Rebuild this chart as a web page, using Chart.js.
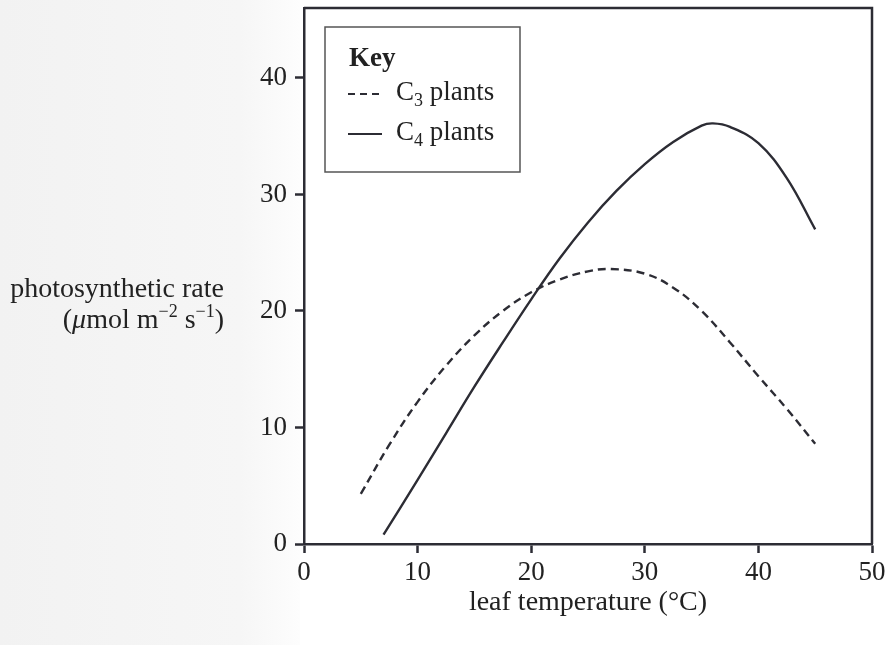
<!DOCTYPE html>
<html>
<head>
<meta charset="utf-8">
<script src="https://cdn.jsdelivr.net/npm/chart.js@4"></script>
<style>
  body { margin: 0; background: #fff; }
  #wrap { width: 889px; height: 645px; }
</style>
</head>
<body>
<div id="wrap"><canvas id="chart1" width="889" height="645"></canvas></div>
<script>
"use strict"

// values
const c3Temp = [5, 7.5, 10, 12.5, 15, 17.5, 20, 22.5, 25, 27, 30, 32.5, 35, 37.5, 40, 42.5, 45]
const c3Rate = [4.3, 8.5, 12.2, 15.3, 17.9, 20.0, 21.6, 22.7, 23.4, 23.6, 23.2, 22.0, 20.0, 17.3, 14.4, 11.6, 8.6]
const c4Temp = [7, 10, 12.5, 15, 17.5, 20, 22.5, 25, 27.5, 30, 32.5, 35, 36, 37.5, 40, 42.5, 45]
const c4Rate = [0.8, 5.5, 9.5, 13.5, 17.3, 21.0, 24.5, 27.6, 30.3, 32.6, 34.5, 35.9, 36.1, 35.8, 34.4, 31.4, 27.0]
const xTicks = [0, 10, 20, 30, 40, 50]
const yTicks = [0, 10, 20, 30, 40]

const ink = '#2c2c34'
const serif = '"Liberation Serif", "Times New Roman", serif'

function toPoints(xs, ys){
    let pts = []
    for (let i = 0; i < xs.length; i++) pts.push({x: xs[i], y: ys[i]})
    return pts
}

// draws background, frame, key and the axis titles
const decor = {
    id: 'decor',
    beforeDraw(chart){
        const c = chart.ctx
        c.save()
        let g = c.createLinearGradient(0, 0, 300, 0)
        g.addColorStop(0, '#f2f2f2')
        g.addColorStop(0.8, '#f6f6f6')
        g.addColorStop(1, '#fdfdfd')
        c.fillStyle = g
        c.fillRect(0, 0, 300, 645)
        c.restore()
    },
    afterDraw(chart){
        const c = chart.ctx
        const a = chart.chartArea
        c.save()
        // top and right edge of the frame
        c.strokeStyle = ink
        c.lineWidth = 2.5
        c.beginPath()
        c.moveTo(a.left, a.top)
        c.lineTo(a.right, a.top)
        c.lineTo(a.right, a.bottom)
        c.stroke()

        // key box
        c.lineWidth = 1.5
        c.strokeStyle = '#555'
        c.strokeRect(325, 27, 195, 145)
        c.fillStyle = '#222'
        c.textBaseline = 'middle'
        c.textAlign = 'left'
        c.font = 'bold 27px ' + serif
        c.fillText('Key', 349, 59)
        c.font = '27px ' + serif
        c.strokeStyle = ink
        c.lineWidth = 2
        c.setLineDash([7, 5])
        c.beginPath(); c.moveTo(348, 94); c.lineTo(381, 94); c.stroke()
        c.setLineDash([])
        c.beginPath(); c.moveTo(348, 134); c.lineTo(382, 134); c.stroke()
        const keyLines = [['3', 93], ['4', 133]]
        for (const [sub, y] of keyLines) {
            c.font = '27px ' + serif
            c.fillText('C', 396, y)
            let w = c.measureText('C').width
            c.font = '18px ' + serif
            c.fillText(sub, 396 + w, y + 8)
            let w2 = c.measureText(sub).width
            c.font = '27px ' + serif
            c.fillText(' plants', 396 + w + w2, y)
        }

        // y axis title, two lines right aligned
        c.font = '28px ' + serif
        c.textAlign = 'right'
        c.fillText('photosynthetic rate', 224, 290)
        c.textAlign = 'left'
        const parts = [
            ['(', '28px ' + serif, 0],
            ['\u03bc', 'italic 28px ' + serif, 0],
            ['mol m', '28px ' + serif, 0],
            ['\u22122', '18px ' + serif, -9],
            [' s', '28px ' + serif, 0],
            ['\u22121', '18px ' + serif, -9],
            [')', '28px ' + serif, 0]
        ]
        let total = 0
        for (const p of parts) { c.font = p[1]; total += c.measureText(p[0]).width }
        let x = 224 - total
        for (const p of parts) {
            c.font = p[1]
            c.fillText(p[0], x, 321 + p[2])
            x += c.measureText(p[0]).width
        }

        // x axis title
        c.textAlign = 'center'
        c.font = '28px ' + serif
        c.fillText('leaf temperature (\u00b0C)', (a.left + a.right) / 2, 603)
        c.restore()
    }
}

const ctx = document.getElementById('chart1')
let myChart = new Chart(ctx, {
    type: 'scatter',
    data: {
        datasets: [{
            label: 'C3 plants',
            data: toPoints(c3Temp, c3Rate),
            showLine: true,
            borderColor: ink,
            borderWidth: 2.4,
            borderDash: [8, 5],
            pointRadius: 0,
            tension: 0.4
        }, {
            label: 'C4 plants',
            data: toPoints(c4Temp, c4Rate),
            showLine: true,
            borderColor: ink,
            borderWidth: 2.4,
            pointRadius: 0,
            tension: 0.4
        }]
    },
    options: {
        responsive: false,
        devicePixelRatio: 1,
        animation: false,
        layout: { padding: { top: 8, right: 17, bottom: 0, left: 0 } },
        plugins: {
            legend: { display: false },
            tooltip: { enabled: false }
        },
        scales: {
            x: {
                type: 'linear',
                min: 0,
                max: 50,
                afterFit: s => { s.height = 101; s.paddingLeft = 0; s.paddingRight = 0 },
                afterBuildTicks: s => { s.ticks = xTicks.map(v => ({value: v})) },
                grid: { drawOnChartArea: false, drawTicks: true, tickLength: 9, tickColor: ink, tickWidth: 2.5 },
                border: { display: true, color: ink, width: 2.5 },
                ticks: { color: '#222', padding: 4, font: { family: serif, size: 27 } }
            },
            y: {
                type: 'linear',
                min: 0,
                max: 46,
                afterFit: s => { s.width = 304; s.paddingTop = 0; s.paddingBottom = 0 },
                afterBuildTicks: s => { s.ticks = yTicks.map(v => ({value: v})) },
                grid: { drawOnChartArea: false, drawTicks: true, tickLength: 9, tickColor: ink, tickWidth: 2.5 },
                border: { display: true, color: ink, width: 2.5 },
                ticks: { color: '#222', padding: 8, font: { family: serif, size: 27 } }
            }
        }
    },
    plugins: [decor]
})
</script>
</body>
</html>
